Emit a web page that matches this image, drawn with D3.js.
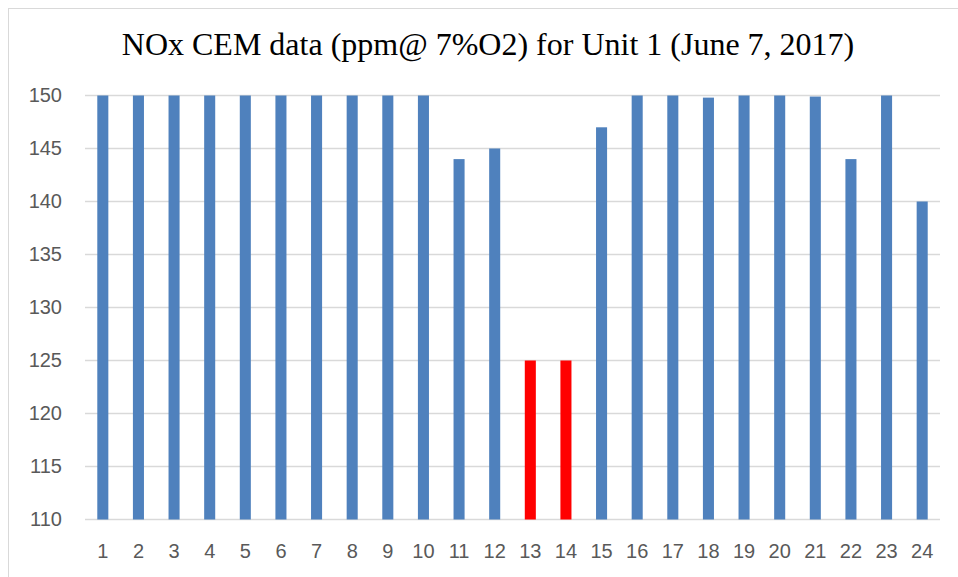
<!DOCTYPE html>
<html>
<head>
<meta charset="utf-8">
<script src="https://cdn.jsdelivr.net/npm/d3@7"></script>
<style>
  body { margin: 0; background: #fff; }
  svg { display: block; }
</style>
</head>
<body>
<svg width="958" height="577"></svg>
<script>
const hours = ["1","2","3","4","5","6","7","8","9","10","11","12","13","14","15","16","17","18","19","20","21","22","23","24"];
const nox = [150,150,150,150,150,150,150,150,150,150,144,145,125,125,147,150,150,149.8,150,150,149.9,144,150,140];
const flagged = ["13","14"];
const yTicks = [110,115,120,125,130,135,140,145,150];
const title = "NOx CEM data (ppm@ 7%O2) for Unit 1 (June 7, 2017)";

const svg = d3.select("svg");
const margin = {left: 85, right: 18, top: 95.5, bottom: 57.5};
const W = 958, H = 577;

// chart frame
svg.append("rect")
    .attr("x", 8.5).attr("y", 8.5)
    .attr("width", W + 10).attr("height", H + 10)
    .attr("fill", "none")
    .attr("stroke", "#d9d9d9")
    .attr("stroke-width", 1);

const x = d3.scaleBand()
    .domain(hours)
    .range([margin.left, W - margin.right])
    .paddingInner(0.69)
    .paddingOuter(0.345);

const y = d3.scaleLinear()
    .domain([110, 150])
    .range([H - margin.bottom, margin.top]);

// gridlines
svg.append("g")
    .selectAll("line")
    .data(yTicks)
    .join("line")
    .attr("x1", margin.left)
    .attr("x2", W - margin.right)
    .attr("y1", d => y(d))
    .attr("y2", d => y(d))
    .attr("stroke", "#d9d9d9")
    .attr("stroke-width", 1.5);

// bars
svg.append("g")
    .selectAll("rect")
    .data(hours.map((h, i) => ({h, v: nox[i]})))
    .join("rect")
    .attr("x", d => x(d.h))
    .attr("width", x.bandwidth())
    .attr("y", d => y(d.v))
    .attr("height", d => y(110) - y(d.v))
    .attr("fill", d => flagged.includes(d.h) ? "#ff0000" : "#4f81bd");

// y axis labels
const yAxis = d3.axisLeft(y).tickValues(yTicks).tickSize(0).tickPadding(23);
svg.append("g")
    .attr("transform", `translate(${margin.left},0)`)
    .call(yAxis)
    .call(g => g.select(".domain").remove())
    .selectAll("text")
    .attr("font-family", "Liberation Sans, Arial, sans-serif")
    .attr("font-size", 20)
    .attr("fill", "#595959");

// x axis labels
const xAxis = d3.axisBottom(x).tickSize(0).tickPadding(24);
svg.append("g")
    .attr("transform", `translate(0,${y(110)})`)
    .call(xAxis)
    .call(g => g.select(".domain").remove())
    .selectAll("text")
    .attr("font-family", "Liberation Sans, Arial, sans-serif")
    .attr("font-size", 20)
    .attr("fill", "#595959");

svg.append("text")
    .attr("x", 488)
    .attr("y", 55)
    .attr("text-anchor", "middle")
    .attr("font-family", "Liberation Serif, Times New Roman, serif")
    .attr("font-size", 32)
    .attr("fill", "#000")
    .text(title);
</script>
</body>
</html>
